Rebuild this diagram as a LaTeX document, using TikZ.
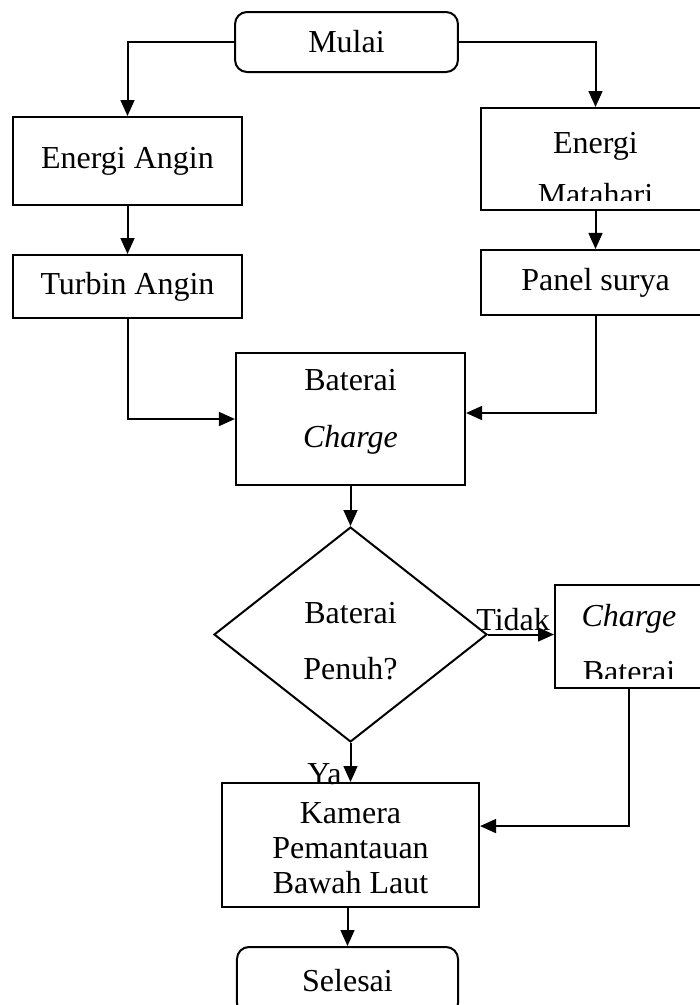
\documentclass[tikz,border=0pt]{standalone}
\usepackage{fontspec}
\setmainfont{Liberation Serif}
\usetikzlibrary{arrows.meta,shapes.geometric}

\begin{document}
\begin{tikzpicture}[x=0.375pt, y=-0.375pt,
    line width=0.75pt,
    box/.style={draw, inner sep=0pt, align=center, font=\fontsize{12}{14}\selectfont},
    endbox/.style={box, rounded corners=4.5pt},
    textat/.style n args={3}{path picture={
        \clip ([yshift=3.6pt]path picture bounding box.south west) rectangle ([yshift=-3.6pt]path picture bounding box.north east);
        \node[draw=none, inner sep=0pt, align=center, font=\fontsize{12}{#2}\selectfont]
          at ([yshift=#1]path picture bounding box.center) {#3};}},
    arr/.style={-{Triangle[width=5.2pt, length=6pt]}},
    lbl/.style={inner sep=1pt, font=\fontsize{12}{14}\selectfont}]
                \useasboundingbox (0,0) rectangle (699,1005);

                % Start / end (rounded)
                \node[endbox, minimum width=83.6pt, minimum height=22.5pt] (mulai) at (346.5,42) {Mulai};
                \node[endbox, minimum width=82.9pt, minimum height=25.5pt] (selesai) at (347.5,981) {Selesai};

                % Wind branch
                \node[box, minimum width=85.9pt, minimum height=33pt] (angin) at (127.5,161) {Energi Angin};
                \node[box, minimum width=85.9pt, minimum height=23.6pt] (turbin) at (127.5,286.5) {Turbin Angin};

                % Solar branch (text runs past the box, so it is clipped)
                \node[box, minimum width=85.9pt, minimum height=38.25pt,
                      textat={-3.75pt}{19.5pt}{Energi\\Matahari}] (matahari) at (595.5,159) {};
                \node[box, minimum width=85.9pt, minimum height=24.4pt] (panel) at (595.5,282.5) {Panel surya};

                % Battery
                \node[box, minimum width=85.9pt, minimum height=49.5pt,
                      textat={2.6pt}{21.4pt}{Baterai\\\textit{Charge}}] (baterai) at (350.5,419) {};

                % Decision
                \node[draw, diamond, inner sep=0pt, minimum width=102.4pt, minimum height=80.6pt,
                      textat={-2.6pt}{21pt}{Baterai\\Penuh?}] (cek) at (350.5,634.5) {};
                \node[box, minimum width=55.5pt, minimum height=38.6pt,
                      textat={-2.8pt}{21pt}{\textit{Charge}\\Baterai}] (isi) at (629,636.5) {};

                % Camera
                \node[box, minimum width=96.4pt, minimum height=46.5pt,
                      textat={-1.2pt}{13.1pt}{Kamera\\Pemantauan\\Bawah Laut}] (kamera) at (350.5,845) {};

                % Connectors
                \draw[arr] (mulai.west) -| (angin.north);
                \draw[arr] (mulai.east) -| (matahari.north);
                \draw[arr] (angin.south) -- (turbin.north);
                \draw[arr] (matahari.south) -- (panel.north);
                \draw[arr] (turbin.south) |- (baterai.west);
                \draw[arr] (panel.south) |- ([yshift=2.25pt]baterai.east);
                \draw[arr] (baterai.south) -- (cek.north);
                \draw[arr] (cek.east) -- node[lbl, pos=0.38, above] {Tidak} (cek.east -| isi.west);
                \draw[arr] (isi.south) |- ([yshift=7.1pt]kamera.east);
                \draw[arr] (cek.south) -- node[lbl, pos=0.8, left=2pt] {Ya} (cek.south |- kamera.north);
                \draw[arr] (selesai.north |- kamera.south) -- (selesai.north);
            \end{tikzpicture}
\end{document}
